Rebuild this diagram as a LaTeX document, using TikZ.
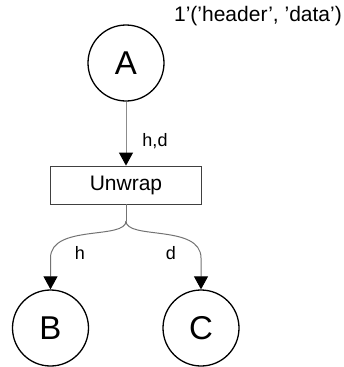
\documentclass[tikz,border=0pt]{standalone}
\usepackage{fontspec}
\setmainfont{Liberation Sans}
\usetikzlibrary{arrows.meta}
\def \tokenStr {1'('header', 'data')}
\def \unwrapStr {Unwrap}
\def \placeRadius {38pt}

\begin{document}
\begin{tikzpicture}[x=1pt,y=-1pt,
  place/.style={circle, draw=black, line width=1.3pt, minimum size=2*\placeRadius,
    inner sep=0pt, font=\fontsize{33}{36}\selectfont},
  trans/.style={rectangle, draw=black!75, line width=0.8pt, minimum width=151pt,
    minimum height=38pt, inner sep=0pt, font=\fontsize{21}{24}\selectfont},
  flow/.style={draw=black!45, line width=1pt, -{Triangle[length=13pt,width=14pt,black]}},
  lbl/.style={inner sep=0pt, font=\fontsize{18}{21}\selectfont}]

\useasboundingbox (0,0) rectangle (344,367);

% places and transition
\node[place] (A) at (126,63) {A};
\node[trans] (unwrap) at (126,185) {\unwrapStr};
\node[place] (B) at (50.5,328) {B};
\node[place] (C) at (201,328) {C};

\node[inner sep=0pt, font=\fontsize{21}{24}\selectfont] (token) at (258,16) {\tokenStr};

% arcs
\draw[flow] (A) -- (unwrap);

\coordinate (split) at (126,221);
\coordinate (hdown) at (50.5,258);
\coordinate (ddown) at (201,258);
\draw[draw=black!55, line width=1pt] (unwrap.south) -- (split);
\draw[flow, draw=black!55] (split) .. controls (126,240) and (50.5,224) .. (hdown) -- (B);
\draw[flow, draw=black!55] (split) .. controls (126,240) and (201,224) .. (ddown) -- (C);

% arc inscriptions
\node[lbl] (hd) at (155,141) {h,d};
\node[lbl] (hlbl) at (80,253) {h};
\node[lbl] (dlbl) at (171,253) {d};

\end{tikzpicture}
\end{document}
